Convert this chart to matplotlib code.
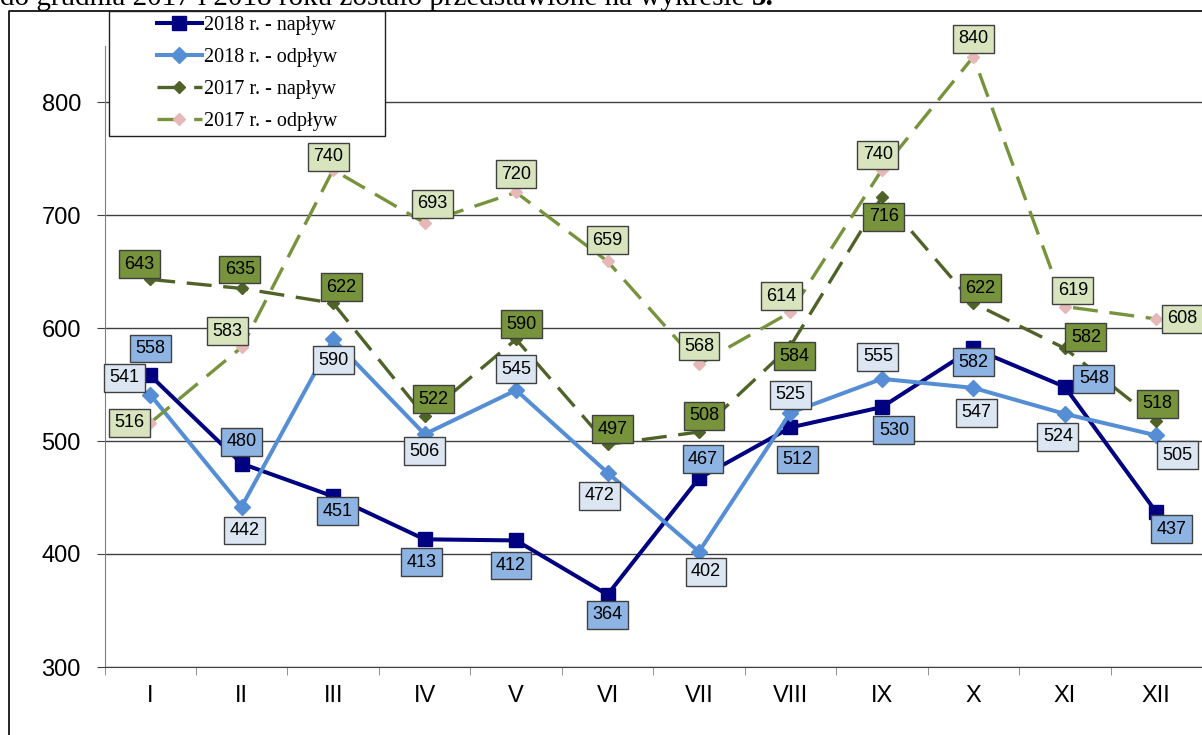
import matplotlib.pyplot as plt
from matplotlib.lines import Line2D
from matplotlib.patches import Rectangle

# data
months = ["I", "II", "III", "IV", "V", "VI", "VII", "VIII", "IX", "X", "XI", "XII"]
naplyw_2018 = [558, 480, 451, 413, 412, 364, 467, 512, 530, 582, 548, 437]
odplyw_2018 = [541, 442, 590, 506, 545, 472, 402, 525, 555, 547, 524, 505]
naplyw_2017 = [643, 635, 622, 522, 590, 497, 508, 584, 716, 622, 582, 518]
odplyw_2017 = [516, 583, 740, 693, 720, 659, 568, 614, 740, 840, 619, 608]

# label offsets in pixels (right, down) from each point
off_n18 = [(0, -27), (0, -22), (4, 15), (-3, 23), (-5, 25), (0, 20), (4, -19), (7, 32), (12, 23), (0, 14), (29, -8), (15, 17)]
off_o18 = [(-26, -17), (3, 24), (0, 21), (0, 17), (0, -21), (-8, 23), (7, 20), (0, -18), (-4, -22), (3, 25), (-7, 23), (21, 20)]
off_n17 = [(-11, -15), (-2, -19), (8, -16), (9, -17), (5, -15), (5, -15), (5, -16), (4, 10), (2, 20), (7, -15), (21, -11), (1, -17)]
off_o17 = [(-21, 0), (-14, -16), (-5, -13), (8, -19), (0, -18), (0, -21), (0, -18), (-9, -16), (-4, -15), (0, -18), (8, -16), (26, 0)]

W, H = 1202, 735
fig = plt.figure(figsize=(W / 100, H / 100), dpi=100)
ax = fig.add_axes([104.5 / W, 68 / H, (W - 104.5) / W, (667 - 45.5) / H])

x = list(range(len(months)))
series = [
    ("2018 r. - napływ", naplyw_2018, off_n18, dict(color="#000080", lw=2.9, marker="s", ms=10.5,
                                                   mfc="#000080", mec="#000080"), "#8DB4E2"),
    ("2018 r. - odpływ", odplyw_2018, off_o18, dict(color="#558ED5", lw=2.9, marker="D", ms=8,
                                                   mfc="#558ED5", mec="#558ED5"), "#DCE6F2"),
    ("2017 r. - napływ", naplyw_2017, off_n17, dict(color="#4F6228", lw=2.4, ls=(0, (7.5, 3.5)), marker="D", ms=6.5,
                                                   mfc="#4F6228", mec="#4F6228"), "#77933C"),
    ("2017 r. - odpływ", odplyw_2017, off_o17, dict(color="#77933C", lw=2.4, ls=(0, (7.5, 3.5)), marker="D", ms=6.5,
                                                   mfc="#E6B9B8", mec="#E6B9B8"), "#D7E4BD"),
]

handles = []
for i, (name, vals, offs, style, fill) in enumerate(series):
    ln, = ax.plot(x, vals, label=name, zorder=3 + i, **style)
    handles.append(ln)

for i, (name, vals, offs, style, fill) in enumerate(series):
    for xi, v, (dx, dy) in zip(x, vals, offs):
        ax.annotate(str(v), (xi, v), xytext=(dx, -dy), textcoords="offset pixels",
                    ha="center", va="center", fontsize=13, family="Liberation Sans",
                    bbox=dict(boxstyle="square,pad=0.3", fc=fill, ec="#404040", lw=1),
                    zorder=10 + i)

ax.set_xlim(-0.5, 11.5)
ax.set_ylim(300, 850)
ax.set_yticks([300, 400, 500, 600, 700, 800])
ax.set_xticks(x)
ax.set_xticklabels(months)
ax.set_xticks([i - 0.5 for i in range(13)], minor=True)
ax.tick_params(axis="x", which="major", length=0, pad=13, labelsize=17)
ax.tick_params(axis="x", which="minor", length=6, color="#808080", direction="out")
ax.tick_params(axis="y", length=6, color="#404040", pad=11, labelsize=17)
for lab in ax.get_xticklabels() + ax.get_yticklabels():
    lab.set_family("Liberation Sans")

ax.yaxis.grid(True, color="#404040", lw=1)
ax.set_axisbelow(True)
ax.spines["top"].set_visible(False)
ax.spines["right"].set_visible(False)
ax.spines["left"].set_color("#808080")
ax.spines["bottom"].set_color("#404040")

# outer frame of the chart
fig.add_artist(Line2D([9 / W, 9 / W, 1], [0, 1 - 11 / H, 1 - 11 / H], transform=fig.transFigure,
                      color="black", lw=1.2))

# legend box
fig.add_artist(Rectangle((109 / W, 1 - 136 / H), (385 - 109) / W, (136 - 11) / H, transform=fig.transFigure,
                         fc="white", ec="#202020", lw=1, zorder=5))
leg = fig.legend(handles=handles, loc="center", bbox_to_anchor=((109 + 385) / 2 / W, 1 - (11 + 136) / 2 / H),
                 frameon=False, prop={"family": "Liberation Serif", "size": 14.5}, handlelength=2.2,
                 handletextpad=0.1, labelspacing=0.65)
leg.set_zorder(6)

# cut-off sentence above the chart
t = fig.text(0.0, 1 - 5 / H, "do grudnia 2017 i 2018 roku zostało przedstawione na wykresie ",
             fontsize=21, family="Liberation Serif", va="baseline")
fig.canvas.draw()
bb = t.get_window_extent()
fig.text(bb.x1 / W, 1 - 5 / H, "5.", fontsize=21, family="Liberation Serif", weight="bold", va="baseline")

fig.savefig("out.png", dpi=100)
